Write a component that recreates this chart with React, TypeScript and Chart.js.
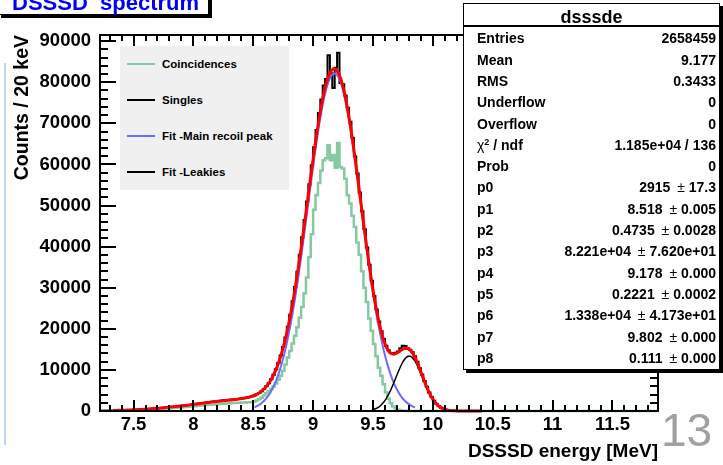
import React, { useEffect, useRef } from 'react';
import { Chart, registerables } from 'chart.js';

Chart.register(...registerables);

// ---- axis definition ----
const xMin = 7.22;
const xMax = 11.88;
const yMax = 91500;
const binStart = 7.22;
const binWidth = 0.02;
const xTickValues = [7.5, 8, 8.5, 9, 9.5, 10, 10.5, 11, 11.5];
const yTickValues = [0, 10000, 20000, 30000, 40000, 50000, 60000, 70000, 80000, 90000];

// ---- histogram contents (bins of 20 keV starting at 7.22 MeV) ----
const singles = [
  60, 95, 80, 110, 120, 115, 150, 140, 180, 175,
  220, 215, 260, 270, 310, 320, 370, 385, 440, 455,
  510, 535, 600, 620, 690, 720, 800, 830, 910, 940,
  1040, 1060, 1170, 1200, 1300, 1340, 1450, 1480, 1590, 1650,
  1760, 1800, 1920, 1970, 2080, 2150, 2230, 2300, 2380, 2460,
  2520, 2600, 2650, 2700, 2760, 2800, 2880, 2920, 3010, 3080,
  3170, 3270, 3400, 3560, 3790, 4060, 4400, 4830, 5360, 6000,
  6780, 7700, 8820, 10150, 11700, 13500, 15550, 17900, 20500, 23400,
  26700, 30200, 33900, 38000, 42300, 46500, 51000, 55200, 59800, 64200,
  68400, 72500, 75800, 79200, 80800, 86600, 82200, 78600, 83500, 87200,
  79800, 79500, 76800, 73800, 70400, 66500, 62000, 57800, 53200, 48600,
  44200, 39800, 35600, 31700, 28000, 24700, 21800, 19400, 17500, 15900,
  14800, 14100, 14000, 14200, 14500, 15300, 15900, 15800, 15300, 14900,
  14300, 13300, 12000, 10400, 8900, 7300, 5900, 4500, 3400, 2500,
  1750, 1200, 800, 520, 330, 200, 120, 70, 40, 20, 10,
];

const coincidences = [
  40, 55, 60, 70, 80, 85, 100, 110, 120, 135,
  150, 165, 180, 200, 215, 240, 260, 285, 305, 335,
  360, 390, 420, 455, 490, 525, 565, 600, 645, 690,
  730, 775, 825, 870, 920, 970, 1020, 1075, 1125, 1180,
  1235, 1290, 1340, 1395, 1450, 1500, 1550, 1600, 1650, 1700,
  1745, 1790, 1830, 1870, 1905, 1940, 1970, 2000, 2025, 2050,
  2075, 2100, 2120, 2150, 2300, 2550, 2850, 3250, 3800, 4300,
  4800, 5350, 5950, 6700, 7600, 8600, 9800, 11300, 13000, 14600,
  16400, 18300, 20400, 22700, 25300, 28600, 32500, 37500, 43000, 49000,
  52500, 55500, 58500, 61000, 61500, 64700, 61000, 62300, 59200, 65200,
  59400, 59000, 56500, 52500, 50500, 47500, 44800, 41000, 38000, 34000,
  30000, 26500, 22500, 19500, 16300, 13300, 10500, 8600, 6500, 4500,
  3000, 1900, 1100, 600, 320, 170, 90, 40, 10,
];

// ---- fit curves, sampled every 20 keV ----
const fitTotalStart = 7.33;
const fitTotal = [
  125, 139, 154, 171, 189, 208, 229, 252, 276, 302,
  331, 361, 393, 427, 463, 502, 543, 587, 632, 680,
  730, 782, 837, 894, 953, 1014, 1078, 1143, 1210, 1278,
  1349, 1420, 1492, 1565, 1639, 1714, 1789, 1864, 1939, 2013,
  2086, 2158, 2229, 2298, 2365, 2432, 2497, 2560, 2624, 2687,
  2750, 2816, 2886, 2962, 3048, 3148, 3267, 3411, 3588, 3808,
  4080, 4417, 4836, 5354, 5985, 6752, 7675, 8778, 10084, 11613,
  13390, 15418, 17731, 20343, 23242, 26434, 29902, 33640, 37606, 41769,
  46069, 50467, 54873, 59229, 63454, 67465, 71180, 74521, 77406, 79778,
  81574, 82756, 83286, 83154, 82364, 80930, 78881, 76277, 73165, 69619,
  65714, 61532, 57162, 52671, 48134, 43649, 39344, 35182, 31260, 27645,
  24375, 21512, 19076, 17101, 15599, 14581, 14007, 13818, 13947, 14282,
  14700, 15073, 15281, 15228, 14852, 14131, 13087, 11783, 10300, 8734,
  7183, 5727, 4425, 3315, 2406, 1694, 1156, 765, 492, 309,
  188, 112, 66, 40, 22, 13, 8, 6, 5, 4,
  3, 3, 2, 2, 1,
];

const fitMainStart = 8.51;
const fitMain = [
  893, 1166, 1509, 1939, 2473, 3125, 3917, 4871, 6009, 7355,
  8928, 10753, 12833, 15201, 17872, 20832, 24088, 27623, 31429, 35465,
  39700, 44073, 48545, 53025, 57456, 61756, 65842, 69632, 73043, 76003,
  78445, 80311, 81561, 82157, 82090, 81363, 79990, 78000, 75452, 72394,
  68900, 65045, 60910, 56585, 52137, 47640, 43193, 38836, 34643, 30648,
  26899, 23413, 20224, 17322, 14716, 12397, 10367, 8599, 7068, 5767,
  4668, 3747, 2983, 2356, 1846, 1435, 1106, 845,
];

const fitLeakStart = 9.49;
const fitLeak = [
  258, 421, 665, 1017, 1507, 2160, 2998, 4029, 5240, 6598,
  8043, 9490, 10842, 11990, 12835, 13302, 13345, 12961, 12185, 11091,
  9773, 8334, 6881, 5500, 4256, 3188, 2312, 1623, 1103, 725,
  462, 285,
];

// ---- texts ----
const legendLabels = ['Coincidences', 'Singles', 'Fit -Main recoil peak', 'Fit -Leakies'];
const legendColors = ['#84c9a2', '#000000', '#6b6bff', '#000000'];
const statsTitle = 'dsssde';
const statsLabels = ['Entries', 'Mean', 'RMS', 'Underflow', 'Overflow', 'CHI', 'Prob',
  'p0', 'p1', 'p2', 'p3', 'p4', 'p5', 'p6', 'p7', 'p8'];
const statsValues = ['2658459', '9.177', '0.3433', '0', '0', '1.185e+04 / 136', '0',
  '2915 ± 17.3', '8.518 ± 0.005', '0.4735 ± 0.0028', '8.221e+04 ± 7.620e+01',
  '9.178 ± 0.000', '0.2221 ± 0.0002', '1.338e+04 ± 4.173e+01', '9.802 ± 0.000', '0.111 ± 0.000'];

const FONT = '"Liberation Sans", Arial, Helvetica, sans-serif';

function histPoints(counts: number[]) {
  const pts = counts.map((c, i) => ({ x: binStart + i * binWidth, y: c }));
  pts.push({ x: binStart + counts.length * binWidth, y: 0 });
  pts.push({ x: xMax, y: 0 });
  return pts;
}
function curvePoints(start: number, vals: number[]) {
  return vals.map((v, i) => ({ x: start + i * binWidth, y: v }));
}

function drawFrameAndTicks(chart: any) {
  const ctx = chart.ctx as CanvasRenderingContext2D;
  const a = chart.chartArea;
  const xs = chart.scales.x;
  const ys = chart.scales.y;
  const w = 2;
  ctx.save();
  ctx.fillStyle = '#000000';
  ctx.fillRect(a.left - 1, a.top - 1, a.right - a.left + 2, w);
  ctx.fillRect(a.left - 1, a.bottom - 1, a.right - a.left + 2, w);
  ctx.fillRect(a.left - 1, a.top - 1, w, a.bottom - a.top + 2);
  ctx.fillRect(a.right - 1, a.top - 1, w, a.bottom - a.top + 2);
  const k0 = Math.ceil(xMin * 10 - 1e-6);
  const k1 = Math.floor(xMax * 10 + 1e-6);
  for (let k = k0; k <= k1; k++) {
    const px = Math.round(xs.getPixelForValue(k / 10));
    const len = k % 5 === 0 ? 11 : 6;
    ctx.fillRect(px - 1, a.bottom - len, w, len);
    ctx.fillRect(px - 1, a.top, w, len);
  }
  for (let k = 0; k * 2000 <= yMax; k++) {
    const py = Math.round(ys.getPixelForValue(k * 2000));
    const len = k % 5 === 0 ? 16 : 8;
    ctx.fillRect(a.left, py - 1, len, w);
    ctx.fillRect(a.right - len, py - 1, len, w);
  }
  ctx.restore();
}

const frameTicks = {
  id: 'frameTicks',
  afterDraw(chart: any) {
    drawFrameAndTicks(chart);
  },
};

export default function App() {
  const ref = useRef<HTMLCanvasElement>(null);

  useEffect(() => {
    const common = { fill: false, pointRadius: 0, pointHoverRadius: 0, tension: 0, clip: false as any };
    const chart = new Chart(ref.current as HTMLCanvasElement, {
      type: 'line',
      data: {
        datasets: [
          { ...common, label: 'Fit total', data: curvePoints(fitTotalStart, fitTotal), borderColor: '#ff0000', borderWidth: 3, order: 0 },
          { ...common, label: legendLabels[3], data: curvePoints(fitLeakStart, fitLeak), borderColor: '#000000', borderWidth: 1.5, order: 1 },
          { ...common, label: legendLabels[2], data: curvePoints(fitMainStart, fitMain), borderColor: '#6b6bff', borderWidth: 2, order: 2 },
          { ...common, label: legendLabels[0], data: histPoints(coincidences), borderColor: '#84c9a2', borderWidth: 2.5, stepped: 'before', order: 3 },
          { ...common, label: legendLabels[1], data: histPoints(singles), borderColor: '#000000', borderWidth: 2, stepped: 'before', order: 4 },
        ] as any,
      },
      options: {
        responsive: false,
        animation: false,
        devicePixelRatio: 1,
        events: [],
        layout: { padding: { left: 0, top: 35, right: 65, bottom: 0 }, autoPadding: false } as any,
        plugins: { legend: { display: false }, tooltip: { enabled: false }, title: { display: false } },
        scales: {
          x: {
            type: 'linear',
            min: xMin,
            max: xMax,
            grid: { display: false, drawTicks: false },
            border: { display: false },
            afterBuildTicks: (s: any) => { s.ticks = xTickValues.map((value) => ({ value })); },
            afterFit: (s: any) => { s.height = 54; },
            ticks: {
              autoSkip: false, maxRotation: 0, minRotation: 0, padding: 3, color: '#000',
              font: { family: FONT, size: 18.5, weight: 'bold' },
              callback: (v: any) => String(v),
            },
            title: {
              display: true, text: 'DSSSD energy [MeV]', align: 'end', color: '#000',
              font: { family: FONT, size: 19, weight: 'bold' }, padding: { top: 0, bottom: 2 },
            },
          },
          y: {
            type: 'linear',
            min: 0,
            max: yMax,
            grid: { display: false, drawTicks: false },
            border: { display: false },
            afterBuildTicks: (s: any) => { s.ticks = yTickValues.map((value) => ({ value })); },
            afterFit: (s: any) => { s.width = 100; },
            ticks: {
              autoSkip: false, padding: 9, color: '#000',
              font: { family: FONT, size: 18.5, weight: 'bold' },
              callback: (v: any) => String(v),
            },
            title: {
              display: true, text: 'Counts / 20 keV', align: 'end', color: '#000',
              font: { family: FONT, size: 19.5, weight: 'bold' }, padding: { top: 11, bottom: 0 },
            },
          },
        },
      } as any,
      plugins: [frameTicks],
    });
    return () => chart.destroy();
  }, []);

  const rowH = 21.3;
  const rowC0 = 39;

  return (
    <div style={{ position: 'absolute', left: 0, top: 0, width: 723, height: 465, overflow: 'hidden', background: '#fff', fontFamily: FONT }}>
      <canvas ref={ref} width={723} height={465} style={{ position: 'absolute', left: 0, top: 0, width: 723, height: 465 }} />

      {/* slide edge line */}
      <div style={{ position: 'absolute', left: 4, top: 63, width: 1.5, height: 382, background: '#bcd6ee' }} />

      {/* title box */}
      <div style={{ position: 'absolute', left: -2, top: -20, width: 209, height: 33, border: '1.5px solid #000', background: '#fff', boxShadow: '3px 3px 0 #000' }} />
      <div style={{ position: 'absolute', left: 12, top: -7.9, fontSize: 22, lineHeight: '22px', fontWeight: 'bold', color: '#0000ff', whiteSpace: 'pre' }}>{'DSSSD  spectrum'}</div>

      {/* legend */}
      <div style={{ position: 'absolute', left: 120, top: 46, width: 169, height: 144, background: '#f0f0f0' }}>
        {legendLabels.map((lab, i) => (
          <div key={lab} style={{ position: 'absolute', left: 0, top: 18 + i * 36 - 7, height: 14, width: 169 }}>
            <div style={{ position: 'absolute', left: 7, top: 6, width: 28, height: 2, background: legendColors[i] }} />
            <div style={{ position: 'absolute', left: 42, top: 0, fontSize: 11.5, lineHeight: '14px', fontWeight: 'bold', color: '#000', whiteSpace: 'nowrap' }}>{lab}</div>
          </div>
        ))}
      </div>

      {/* stats box */}
      <div style={{ position: 'absolute', left: 463, top: 3, width: 257, height: 367, boxSizing: 'border-box', border: '1.5px solid #000', background: '#fff', boxShadow: '3px 3px 0 #000' }} />
      <div style={{ position: 'absolute', left: 463, top: 25, width: 257, height: 1.5, background: '#000' }} />
      <div style={{ position: 'absolute', left: 463, width: 257, top: 7.5, fontSize: 18, lineHeight: '18px', fontWeight: 'bold', textAlign: 'center', color: '#000' }}>{statsTitle}</div>
      {statsLabels.map((lab, i) => {
        const top = rowC0 + i * rowH - rowH / 2;
        const val = statsValues[i];
        const parts = val.split(' ± ');
        return (
          <div key={lab} style={{ position: 'absolute', left: 463, top, width: 257, height: rowH, fontSize: 14, lineHeight: rowH + 'px', fontWeight: 'bold', color: '#000' }}>
            <div style={{ position: 'absolute', left: 14, top: 0, whiteSpace: 'nowrap' }}>
              {lab === 'CHI' ? (
                <span><span style={{ fontWeight: 'normal' }}>χ</span><span style={{ fontSize: 9, position: 'relative', top: -5 }}>2</span> / ndf</span>
              ) : lab}
            </div>
            <div style={{ position: 'absolute', right: 4, top: 0, whiteSpace: 'nowrap' }}>
              {parts.length === 2 ? (
                <span>{parts[0]} <span style={{ fontWeight: 'normal', marginLeft: 3 }}>±</span> {parts[1]}</span>
              ) : val}
            </div>
          </div>
        );
      })}

      {/* slide page number */}
      <div style={{ position: 'absolute', left: 661, top: 407, fontSize: 46, lineHeight: '46px', color: '#a0a0a0' }}>13</div>
    </div>
  );
}
